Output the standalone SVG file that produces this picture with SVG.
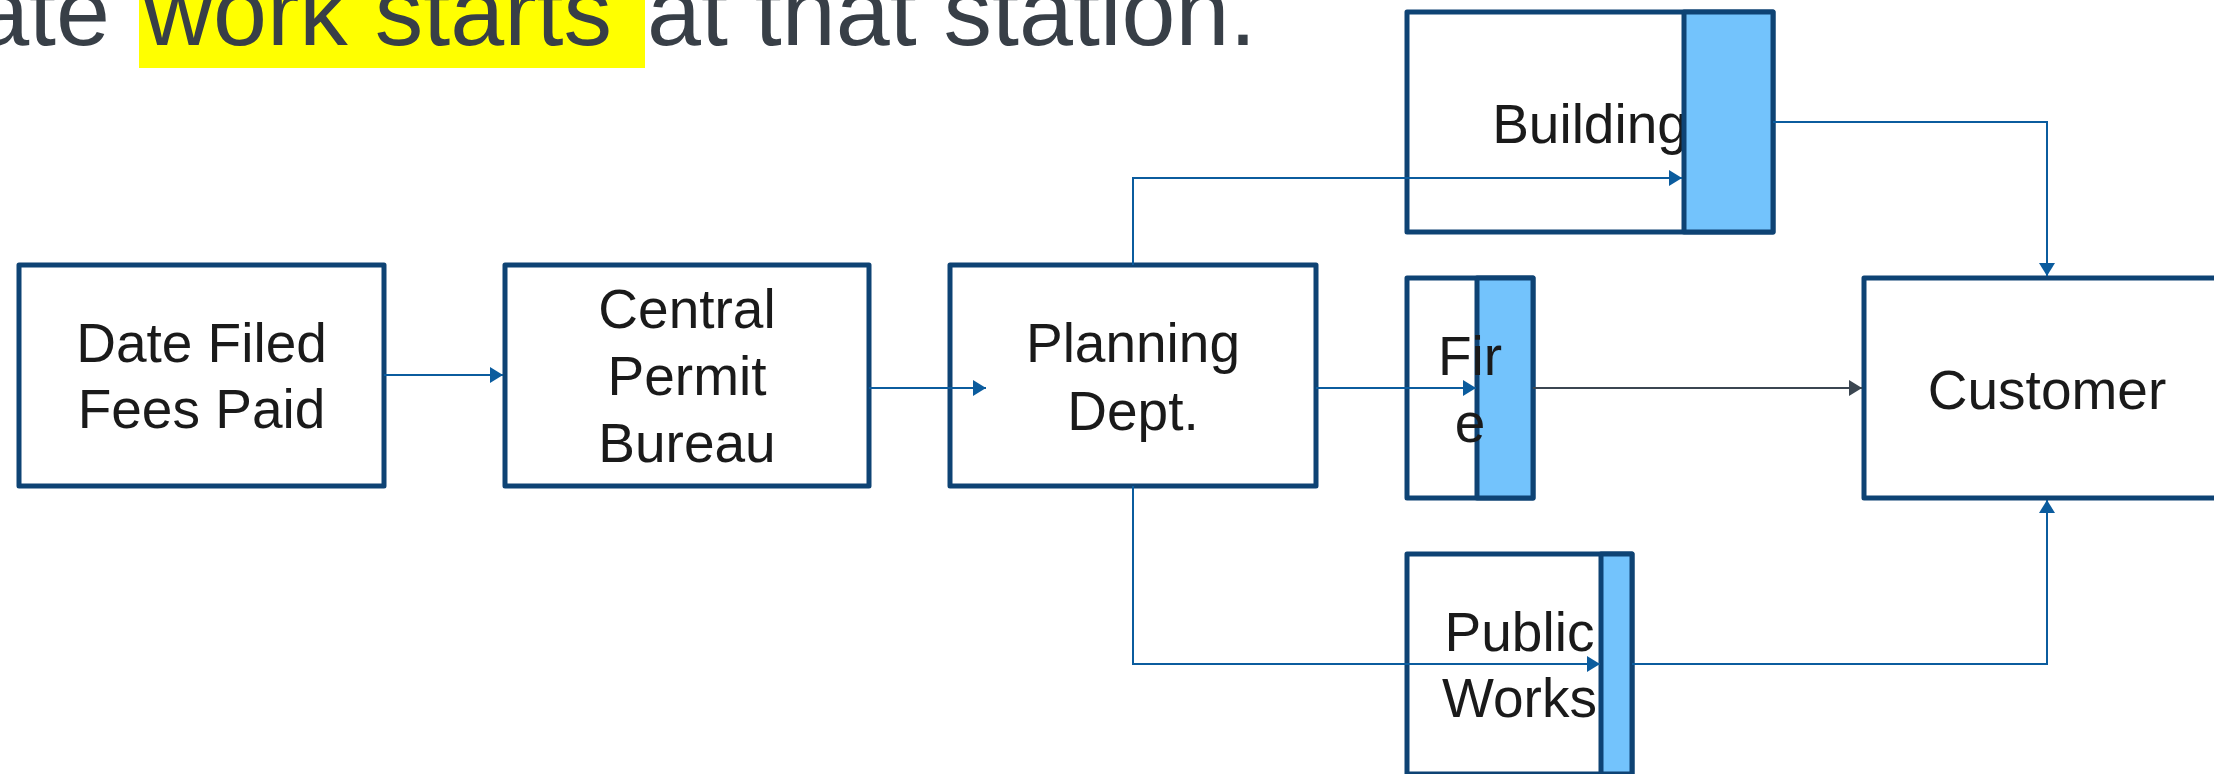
<svg xmlns="http://www.w3.org/2000/svg" width="2214" height="774" viewBox="0 0 2214 774">
  <style>
    .box { fill: #ffffff; stroke: #0e4374; stroke-width: 5; stroke-linejoin: round; }
    .q { fill: #73c3fc; stroke: #0e4374; stroke-width: 5; stroke-linejoin: round; }
    .lbl { font-family: "Liberation Sans", Arial, sans-serif; font-size: 55px; fill: #1a1a1a; text-anchor: middle; }
    .title { font-family: "Liberation Sans", Arial, sans-serif; font-size: 97px; fill: #383f47; }
    .c { fill: none; stroke: #0b5c9e; stroke-width: 2; }
    .cd { fill: none; stroke: #3b4651; stroke-width: 2; }
  </style>
  <defs>
    <marker id="ab" viewBox="0 0 13 16" refX="13" refY="8" markerWidth="13" markerHeight="16" markerUnits="userSpaceOnUse" orient="auto">
      <path d="M0,0 L13,8 L0,16 z" fill="#0b5c9e"/>
    </marker>
    <marker id="ad" viewBox="0 0 13 16" refX="13" refY="8" markerWidth="13" markerHeight="16" markerUnits="userSpaceOnUse" orient="auto">
      <path d="M0,0 L13,8 L0,16 z" fill="#3b4651"/>
    </marker>
  </defs>

  <g id="title">
    <rect x="139" y="0" width="506" height="68" fill="#ffff00"/>
    <text class="title" x="110" y="45" text-anchor="end">ate</text>
    <text class="title" x="143" y="45">work starts</text>
    <text class="title" x="647" y="45">at that station.</text>
  </g>

  <g id="date-filed">
    <rect class="box" x="19" y="265" width="365" height="221"/>
    <text class="lbl" x="201.5" y="362">Date Filed</text>
    <text class="lbl" x="201.5" y="428">Fees Paid</text>
  </g>

  <g id="central-permit">
    <rect class="box" x="505" y="265" width="364" height="221"/>
    <text class="lbl" x="687" y="328">Central</text>
    <text class="lbl" x="687" y="395">Permit</text>
    <text class="lbl" x="687" y="462">Bureau</text>
  </g>

  <g id="planning">
    <rect class="box" x="950" y="265" width="366" height="221"/>
    <text class="lbl" x="1133" y="362">Planning</text>
    <text class="lbl" x="1133" y="430">Dept.</text>
  </g>

  <g id="building">
    <rect class="box" x="1407" y="12" width="366" height="220"/>
    <text class="lbl" x="1590" y="143">Building</text>
    <rect class="q" x="1684" y="12" width="89" height="220"/>
  </g>

  <g id="fire">
    <rect class="box" x="1407" y="278" width="126" height="220"/>
    <rect class="q" x="1477" y="278" width="56" height="220"/>
    <text class="lbl" x="1470" y="375">Fir</text>
    <text class="lbl" x="1470" y="442">e</text>
  </g>

  <g id="public-works">
    <rect class="box" x="1407" y="554" width="225" height="220"/>
    <rect class="q" x="1601" y="554" width="31" height="220"/>
    <text class="lbl" x="1519.5" y="651">Public</text>
    <text class="lbl" x="1519.5" y="717">Works</text>
  </g>

  <g id="customer">
    <rect class="box" x="1864" y="278" width="366" height="220"/>
    <text class="lbl" x="2047" y="409">Customer</text>
  </g>

  <g id="connectors">
    <path class="c" d="M384,375 L503,375" marker-end="url(#ab)"/>
    <path class="c" d="M869,388 L986,388" marker-end="url(#ab)"/>
    <path class="c" d="M1133,265 L1133,178 L1682,178" marker-end="url(#ab)"/>
    <path class="c" d="M1316,388 L1476,388" marker-end="url(#ab)"/>
    <path class="c" d="M1133,486 L1133,664 L1600,664" marker-end="url(#ab)"/>
    <path class="cd" d="M1533,388 L1862,388" marker-end="url(#ad)"/>
    <path class="c" d="M1773,122 L2047,122 L2047,276" marker-end="url(#ab)"/>
    <path class="c" d="M1632,664 L2047,664 L2047,500" marker-end="url(#ab)"/>
  </g>
</svg>
